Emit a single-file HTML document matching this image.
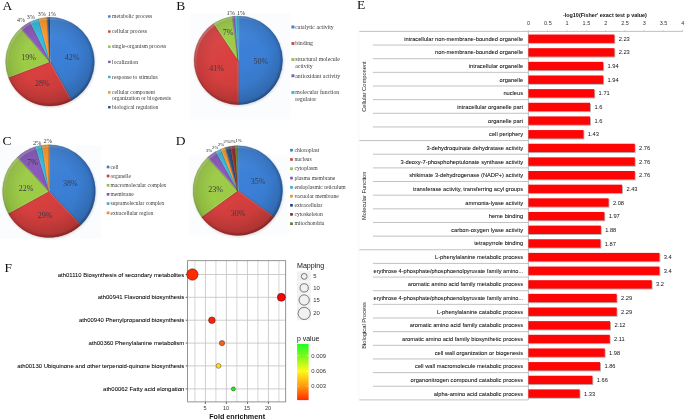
<!DOCTYPE html>
<html><head><meta charset="utf-8"><title>Figure</title>
<style>html,body{margin:0;padding:0;background:#fff;}svg{display:block;}</style></head>
<body>
<svg width="685" height="419" viewBox="0 0 685 419">
<defs>
<filter id="blur1" x="-20%" y="-20%" width="140%" height="140%"><feGaussianBlur stdDeviation="1.0"/></filter>
<filter id="blur3" x="-10%" y="-10%" width="120%" height="120%"><feGaussianBlur stdDeviation="0.6"/></filter>
<filter id="blur2" x="-20%" y="-40%" width="140%" height="180%"><feGaussianBlur stdDeviation="0.7"/></filter>
<radialGradient id="bevel" cx="0.5" cy="0.5" r="0.5">
<stop offset="0" stop-color="#000" stop-opacity="0"/>
<stop offset="0.6" stop-color="#000" stop-opacity="0"/>
<stop offset="0.9" stop-color="#000" stop-opacity="0.09"/>
<stop offset="0.965" stop-color="#000" stop-opacity="0.15"/>
<stop offset="1" stop-color="#000" stop-opacity="0.30"/>
</radialGradient>
<linearGradient id="shade" x1="0.25" y1="0" x2="0.75" y2="1">
<stop offset="0" stop-color="#fff" stop-opacity="0.07"/>
<stop offset="0.45" stop-color="#fff" stop-opacity="0"/>
<stop offset="0.55" stop-color="#000" stop-opacity="0"/>
<stop offset="1" stop-color="#000" stop-opacity="0.13"/>
</linearGradient>
<linearGradient id="rimlin" x1="0.15" y1="0.1" x2="0.85" y2="0.9">
<stop offset="0" stop-color="#fff" stop-opacity="0.22"/>
<stop offset="0.4" stop-color="#fff" stop-opacity="0.0"/>
<stop offset="0.5" stop-color="#000" stop-opacity="0.0"/>
<stop offset="1" stop-color="#000" stop-opacity="0.12"/>
</linearGradient>
<linearGradient id="pgrad" x1="0" y1="0" x2="0" y2="1">
<stop offset="0" stop-color="#1fff1f"/>
<stop offset="0.25" stop-color="#8cf71c"/>
<stop offset="0.48" stop-color="#fffa1a"/>
<stop offset="0.75" stop-color="#ff9a0c"/>
<stop offset="1" stop-color="#ff2a00"/>
</linearGradient>
</defs>
<rect width="685" height="419" fill="#fff"/>
<text x="2.6" y="9.9" font-family='"Liberation Serif", serif' font-size="13.5" fill="#111">A</text>
<text x="176.2" y="9.6" font-family='"Liberation Serif", serif' font-size="13.5" fill="#111">B</text>
<text x="2.5" y="145.4" font-family='"Liberation Serif", serif' font-size="13.5" fill="#111">C</text>
<text x="175.8" y="145" font-family='"Liberation Serif", serif' font-size="13.5" fill="#111">D</text>
<text x="357" y="9" font-family='"Liberation Serif", serif' font-size="13.5" fill="#111">E</text>
<text x="4.4" y="271.8" font-family='"Liberation Serif", serif' font-size="13.5" fill="#111">F</text>
<g>
<circle cx="50.5" cy="62.7" r="44.9" fill="#000" opacity="0.12" filter="url(#blur1)"/>
<path d="M50.00,61.70 L50.00,17.30 A44.4,44.4 0 0 1 71.63,100.47 Z" fill="#3b80d6" stroke="#3b80d6" stroke-width="0.3"/>
<path d="M50.00,61.70 L71.63,100.47 A44.4,44.4 0 0 1 8.52,77.52 Z" fill="#d8403f" stroke="#d8403f" stroke-width="0.3"/>
<path d="M50.00,61.70 L8.52,77.52 A44.4,44.4 0 0 1 20.85,28.21 Z" fill="#9ccb46" stroke="#9ccb46" stroke-width="0.3"/>
<path d="M50.00,61.70 L20.85,28.21 A44.4,44.4 0 0 1 30.09,22.01 Z" fill="#8656b8" stroke="#8656b8" stroke-width="0.3"/>
<path d="M50.00,61.70 L30.09,22.01 A44.4,44.4 0 0 1 38.69,18.77 Z" fill="#2fb8dc" stroke="#2fb8dc" stroke-width="0.3"/>
<path d="M50.00,61.70 L38.69,18.77 A44.4,44.4 0 0 1 47.21,17.39 Z" fill="#fb9526" stroke="#fb9526" stroke-width="0.3"/>
<path d="M50.00,61.70 L47.21,17.39 A44.4,44.4 0 0 1 50.00,17.30 Z" fill="#24497c" stroke="#24497c" stroke-width="0.3"/>
<line x1="50.45" y1="61.70" x2="50.45" y2="17.30" stroke="#fff" stroke-opacity="0.16" stroke-width="0.7"/>
<line x1="49.55" y1="61.70" x2="49.55" y2="17.30" stroke="#000" stroke-opacity="0.22" stroke-width="0.7"/>
<line x1="49.61" y1="61.92" x2="71.24" y2="100.69" stroke="#fff" stroke-opacity="0.16" stroke-width="0.7"/>
<line x1="50.39" y1="61.48" x2="72.03" y2="100.25" stroke="#000" stroke-opacity="0.22" stroke-width="0.7"/>
<line x1="49.84" y1="61.28" x2="8.36" y2="77.10" stroke="#fff" stroke-opacity="0.16" stroke-width="0.7"/>
<line x1="50.16" y1="62.12" x2="8.68" y2="77.95" stroke="#000" stroke-opacity="0.22" stroke-width="0.7"/>
<line x1="50.34" y1="61.40" x2="21.19" y2="27.92" stroke="#fff" stroke-opacity="0.16" stroke-width="0.7"/>
<line x1="49.66" y1="62.00" x2="20.51" y2="28.51" stroke="#000" stroke-opacity="0.22" stroke-width="0.7"/>
<line x1="50.40" y1="61.50" x2="30.49" y2="21.81" stroke="#fff" stroke-opacity="0.16" stroke-width="0.7"/>
<line x1="49.60" y1="61.90" x2="29.69" y2="22.22" stroke="#000" stroke-opacity="0.22" stroke-width="0.7"/>
<line x1="50.44" y1="61.59" x2="39.12" y2="18.65" stroke="#fff" stroke-opacity="0.16" stroke-width="0.7"/>
<line x1="49.56" y1="61.81" x2="38.25" y2="18.88" stroke="#000" stroke-opacity="0.22" stroke-width="0.7"/>
<line x1="50.45" y1="61.67" x2="47.66" y2="17.36" stroke="#fff" stroke-opacity="0.16" stroke-width="0.7"/>
<line x1="49.55" y1="61.73" x2="46.76" y2="17.42" stroke="#000" stroke-opacity="0.22" stroke-width="0.7"/>
<circle cx="50" cy="61.7" r="44.4" fill="url(#bevel)"/>
<circle cx="50" cy="61.7" r="44.4" fill="url(#shade)"/>
<clipPath id="pc1"><circle cx="50" cy="61.7" r="44.4"/></clipPath>
<g clip-path="url(#pc1)"><circle cx="50" cy="61.7" r="43.4" fill="none" stroke="url(#rimlin)" stroke-width="3" filter="url(#blur3)"/></g>
</g>
<text x="72.1" y="59.8" font-family='"Liberation Serif", serif' font-size="8" text-anchor="middle" fill="#3b3b48" font-weight="normal" >42%</text>
<text x="42.4" y="85.8" font-family='"Liberation Serif", serif' font-size="8" text-anchor="middle" fill="#3b3b48" font-weight="normal" >28%</text>
<text x="28.6" y="59.8" font-family='"Liberation Serif", serif' font-size="8" text-anchor="middle" fill="#3b3b48" font-weight="normal" >19%</text>
<text x="21.1" y="22.1" font-family='"Liberation Serif", serif' font-size="6" text-anchor="middle" fill="#333" font-weight="normal" >4%</text>
<text x="30.8" y="18.8" font-family='"Liberation Serif", serif' font-size="6" text-anchor="middle" fill="#333" font-weight="normal" >3%</text>
<text x="41.7" y="15.8" font-family='"Liberation Serif", serif' font-size="6" text-anchor="middle" fill="#333" font-weight="normal" >3%</text>
<text x="51.8" y="15.8" font-family='"Liberation Serif", serif' font-size="6" text-anchor="middle" fill="#333" font-weight="normal" >1%</text>
<rect x="108.2" y="15.35" width="2.3" height="2.3" fill="#3b80d6"/>
<rect x="108.35000000000001" y="15.50" width="1.9999999999999998" height="1.9999999999999998" fill="none" stroke="#000" stroke-opacity="0.25" stroke-width="0.3"/>
<text x="112.1" y="18.174" font-family='"Liberation Serif", serif' font-size="5.58" text-anchor="start" fill="#3a3a3a" font-weight="normal" >metabolic process</text>
<rect x="108.2" y="30.45" width="2.3" height="2.3" fill="#d8403f"/>
<rect x="108.35000000000001" y="30.60" width="1.9999999999999998" height="1.9999999999999998" fill="none" stroke="#000" stroke-opacity="0.25" stroke-width="0.3"/>
<text x="112.1" y="33.274" font-family='"Liberation Serif", serif' font-size="5.58" text-anchor="start" fill="#3a3a3a" font-weight="normal" >cellular process</text>
<rect x="108.2" y="45.65" width="2.3" height="2.3" fill="#9ccb46"/>
<rect x="108.35000000000001" y="45.80" width="1.9999999999999998" height="1.9999999999999998" fill="none" stroke="#000" stroke-opacity="0.25" stroke-width="0.3"/>
<text x="112.1" y="48.474" font-family='"Liberation Serif", serif' font-size="5.58" text-anchor="start" fill="#3a3a3a" font-weight="normal" >single-organism process</text>
<rect x="108.2" y="60.75" width="2.3" height="2.3" fill="#8656b8"/>
<rect x="108.35000000000001" y="60.90" width="1.9999999999999998" height="1.9999999999999998" fill="none" stroke="#000" stroke-opacity="0.25" stroke-width="0.3"/>
<text x="112.1" y="63.574" font-family='"Liberation Serif", serif' font-size="5.58" text-anchor="start" fill="#3a3a3a" font-weight="normal" >localization</text>
<rect x="108.2" y="75.85" width="2.3" height="2.3" fill="#2fb8dc"/>
<rect x="108.35000000000001" y="76.00" width="1.9999999999999998" height="1.9999999999999998" fill="none" stroke="#000" stroke-opacity="0.25" stroke-width="0.3"/>
<text x="112.1" y="78.674" font-family='"Liberation Serif", serif' font-size="5.58" text-anchor="start" fill="#3a3a3a" font-weight="normal" >response to stimulus</text>
<rect x="108.2" y="91.25" width="2.3" height="2.3" fill="#fb9526"/>
<rect x="108.35000000000001" y="91.40" width="1.9999999999999998" height="1.9999999999999998" fill="none" stroke="#000" stroke-opacity="0.25" stroke-width="0.3"/>
<text x="112.1" y="94.07400000000001" font-family='"Liberation Serif", serif' font-size="5.58" text-anchor="start" fill="#3a3a3a" font-weight="normal" >cellular component</text>
<text x="112.1" y="99.57400000000001" font-family='"Liberation Serif", serif' font-size="5.58" text-anchor="start" fill="#3a3a3a" font-weight="normal" >organization or biogenesis</text>
<rect x="108.2" y="106.05" width="2.3" height="2.3" fill="#24497c"/>
<rect x="108.35000000000001" y="106.20" width="1.9999999999999998" height="1.9999999999999998" fill="none" stroke="#000" stroke-opacity="0.25" stroke-width="0.3"/>
<text x="112.1" y="108.87400000000001" font-family='"Liberation Serif", serif' font-size="5.58" text-anchor="start" fill="#3a3a3a" font-weight="normal" >biological regulation</text>
<rect x="190.3" y="13" width="99.7" height="106.5" fill="#f4f8fd" opacity="0.38"/>
<g>
<circle cx="238.85" cy="61.4" r="44.8" fill="#000" opacity="0.12" filter="url(#blur1)"/>
<path d="M238.35,60.40 L238.35,16.10 A44.3,44.3 0 0 1 238.35,104.70 Z" fill="#3b80d6" stroke="#3b80d6" stroke-width="0.3"/>
<path d="M238.35,60.40 L238.35,104.70 A44.3,44.3 0 0 1 213.68,23.60 Z" fill="#d8403f" stroke="#d8403f" stroke-width="0.3"/>
<path d="M238.35,60.40 L213.68,23.60 A44.3,44.3 0 0 1 232.52,16.49 Z" fill="#9ccb46" stroke="#9ccb46" stroke-width="0.3"/>
<path d="M238.35,60.40 L232.52,16.49 A44.3,44.3 0 0 1 235.01,16.23 Z" fill="#8656b8" stroke="#8656b8" stroke-width="0.3"/>
<path d="M238.35,60.40 L235.01,16.23 A44.3,44.3 0 0 1 238.35,16.10 Z" fill="#2fb8dc" stroke="#2fb8dc" stroke-width="0.3"/>
<line x1="238.80" y1="60.40" x2="238.80" y2="16.10" stroke="#fff" stroke-opacity="0.16" stroke-width="0.7"/>
<line x1="237.90" y1="60.40" x2="237.90" y2="16.10" stroke="#000" stroke-opacity="0.22" stroke-width="0.7"/>
<line x1="237.90" y1="60.40" x2="237.90" y2="104.70" stroke="#fff" stroke-opacity="0.16" stroke-width="0.7"/>
<line x1="238.80" y1="60.40" x2="238.80" y2="104.70" stroke="#000" stroke-opacity="0.22" stroke-width="0.7"/>
<line x1="238.72" y1="60.15" x2="214.05" y2="23.35" stroke="#fff" stroke-opacity="0.16" stroke-width="0.7"/>
<line x1="237.98" y1="60.65" x2="213.31" y2="23.86" stroke="#000" stroke-opacity="0.22" stroke-width="0.7"/>
<line x1="238.80" y1="60.34" x2="232.97" y2="16.43" stroke="#fff" stroke-opacity="0.16" stroke-width="0.7"/>
<line x1="237.90" y1="60.46" x2="232.08" y2="16.54" stroke="#000" stroke-opacity="0.22" stroke-width="0.7"/>
<line x1="238.80" y1="60.37" x2="235.46" y2="16.19" stroke="#fff" stroke-opacity="0.16" stroke-width="0.7"/>
<line x1="237.90" y1="60.43" x2="234.56" y2="16.26" stroke="#000" stroke-opacity="0.22" stroke-width="0.7"/>
<circle cx="238.35" cy="60.4" r="44.3" fill="url(#bevel)"/>
<circle cx="238.35" cy="60.4" r="44.3" fill="url(#shade)"/>
<clipPath id="pc2"><circle cx="238.35" cy="60.4" r="44.3"/></clipPath>
<g clip-path="url(#pc2)"><circle cx="238.35" cy="60.4" r="43.3" fill="none" stroke="url(#rimlin)" stroke-width="3" filter="url(#blur3)"/></g>
</g>
<text x="260.8" y="63.7" font-family='"Liberation Serif", serif' font-size="8" text-anchor="middle" fill="#3b3b48" font-weight="normal" >50%</text>
<text x="216.7" y="70.5" font-family='"Liberation Serif", serif' font-size="8" text-anchor="middle" fill="#3b3b48" font-weight="normal" >41%</text>
<text x="228.2" y="34.8" font-family='"Liberation Serif", serif' font-size="8" text-anchor="middle" fill="#3b3b48" font-weight="normal" >7%</text>
<text x="230.7" y="14.6" font-family='"Liberation Serif", serif' font-size="6.4" text-anchor="middle" fill="#333" font-weight="normal" >1%</text>
<text x="240.9" y="14.6" font-family='"Liberation Serif", serif' font-size="6.4" text-anchor="middle" fill="#333" font-weight="normal" >1%</text>
<rect x="291.6" y="25.65" width="2.7" height="2.7" fill="#3b80d6"/>
<rect x="291.75" y="25.80" width="2.4000000000000004" height="2.4000000000000004" fill="none" stroke="#000" stroke-opacity="0.25" stroke-width="0.3"/>
<text x="295.3" y="28.74" font-family='"Liberation Serif", serif' font-size="5.8" text-anchor="start" fill="#3a3a3a" font-weight="normal" >catalytic activity</text>
<rect x="291.6" y="42.15" width="2.7" height="2.7" fill="#d8403f"/>
<rect x="291.75" y="42.30" width="2.4000000000000004" height="2.4000000000000004" fill="none" stroke="#000" stroke-opacity="0.25" stroke-width="0.3"/>
<text x="295.3" y="45.24" font-family='"Liberation Serif", serif' font-size="5.8" text-anchor="start" fill="#3a3a3a" font-weight="normal" >binding</text>
<rect x="291.6" y="58.25" width="2.7" height="2.7" fill="#9ccb46"/>
<rect x="291.75" y="58.40" width="2.4000000000000004" height="2.4000000000000004" fill="none" stroke="#000" stroke-opacity="0.25" stroke-width="0.3"/>
<text x="295.3" y="61.34" font-family='"Liberation Serif", serif' font-size="5.8" text-anchor="start" fill="#3a3a3a" font-weight="normal" >structural molecule</text>
<text x="295.3" y="67.64" font-family='"Liberation Serif", serif' font-size="5.8" text-anchor="start" fill="#3a3a3a" font-weight="normal" >activity</text>
<rect x="291.6" y="74.45" width="2.7" height="2.7" fill="#8656b8"/>
<rect x="291.75" y="74.60" width="2.4000000000000004" height="2.4000000000000004" fill="none" stroke="#000" stroke-opacity="0.25" stroke-width="0.3"/>
<text x="295.3" y="77.53999999999999" font-family='"Liberation Serif", serif' font-size="5.8" text-anchor="start" fill="#3a3a3a" font-weight="normal" >antioxidant activity</text>
<rect x="291.6" y="91.15" width="2.7" height="2.7" fill="#2fb8dc"/>
<rect x="291.75" y="91.30" width="2.4000000000000004" height="2.4000000000000004" fill="none" stroke="#000" stroke-opacity="0.25" stroke-width="0.3"/>
<text x="295.3" y="94.24" font-family='"Liberation Serif", serif' font-size="5.8" text-anchor="start" fill="#3a3a3a" font-weight="normal" >molecular function</text>
<text x="295.3" y="100.53999999999999" font-family='"Liberation Serif", serif' font-size="5.8" text-anchor="start" fill="#3a3a3a" font-weight="normal" >regulator</text>
<rect x="0" y="145.5" width="100.8" height="93" fill="#f4f8fd" opacity="0.38"/>
<g>
<circle cx="49.5" cy="192.2" r="46.9" fill="#000" opacity="0.12" filter="url(#blur1)"/>
<path d="M49.00,191.20 L49.00,144.80 A46.4,46.4 0 0 1 80.76,225.02 Z" fill="#3b80d6" stroke="#3b80d6" stroke-width="0.3"/>
<path d="M49.00,191.20 L80.76,225.02 A46.4,46.4 0 0 1 8.34,213.55 Z" fill="#d8403f" stroke="#d8403f" stroke-width="0.3"/>
<path d="M49.00,191.20 L8.34,213.55 A46.4,46.4 0 0 1 17.45,157.18 Z" fill="#9ccb46" stroke="#9ccb46" stroke-width="0.3"/>
<path d="M49.00,191.20 L17.45,157.18 A46.4,46.4 0 0 1 35.50,146.81 Z" fill="#8656b8" stroke="#8656b8" stroke-width="0.3"/>
<path d="M49.00,191.20 L35.50,146.81 A46.4,46.4 0 0 1 42.03,145.33 Z" fill="#2fb8dc" stroke="#2fb8dc" stroke-width="0.3"/>
<path d="M49.00,191.20 L42.03,145.33 A46.4,46.4 0 0 1 49.00,144.80 Z" fill="#fb9526" stroke="#fb9526" stroke-width="0.3"/>
<line x1="49.45" y1="191.20" x2="49.45" y2="144.80" stroke="#fff" stroke-opacity="0.16" stroke-width="0.7"/>
<line x1="48.55" y1="191.20" x2="48.55" y2="144.80" stroke="#000" stroke-opacity="0.22" stroke-width="0.7"/>
<line x1="48.67" y1="191.51" x2="80.43" y2="225.33" stroke="#fff" stroke-opacity="0.16" stroke-width="0.7"/>
<line x1="49.33" y1="190.89" x2="81.09" y2="224.72" stroke="#000" stroke-opacity="0.22" stroke-width="0.7"/>
<line x1="48.78" y1="190.81" x2="8.12" y2="213.16" stroke="#fff" stroke-opacity="0.16" stroke-width="0.7"/>
<line x1="49.22" y1="191.59" x2="8.56" y2="213.95" stroke="#000" stroke-opacity="0.22" stroke-width="0.7"/>
<line x1="49.33" y1="190.89" x2="17.78" y2="156.87" stroke="#fff" stroke-opacity="0.16" stroke-width="0.7"/>
<line x1="48.67" y1="191.51" x2="17.12" y2="157.48" stroke="#000" stroke-opacity="0.22" stroke-width="0.7"/>
<line x1="49.43" y1="191.07" x2="35.93" y2="146.68" stroke="#fff" stroke-opacity="0.16" stroke-width="0.7"/>
<line x1="48.57" y1="191.33" x2="35.07" y2="146.94" stroke="#000" stroke-opacity="0.22" stroke-width="0.7"/>
<line x1="49.44" y1="191.13" x2="42.47" y2="145.26" stroke="#fff" stroke-opacity="0.16" stroke-width="0.7"/>
<line x1="48.56" y1="191.27" x2="41.58" y2="145.39" stroke="#000" stroke-opacity="0.22" stroke-width="0.7"/>
<circle cx="49" cy="191.2" r="46.4" fill="url(#bevel)"/>
<circle cx="49" cy="191.2" r="46.4" fill="url(#shade)"/>
<clipPath id="pc3"><circle cx="49" cy="191.2" r="46.4"/></clipPath>
<g clip-path="url(#pc3)"><circle cx="49" cy="191.2" r="45.4" fill="none" stroke="url(#rimlin)" stroke-width="3" filter="url(#blur3)"/></g>
</g>
<text x="70.3" y="186" font-family='"Liberation Serif", serif' font-size="8" text-anchor="middle" fill="#3b3b48" font-weight="normal" >38%</text>
<text x="45.2" y="217.5" font-family='"Liberation Serif", serif' font-size="8" text-anchor="middle" fill="#3b3b48" font-weight="normal" >29%</text>
<text x="26" y="190.9" font-family='"Liberation Serif", serif' font-size="8" text-anchor="middle" fill="#3b3b48" font-weight="normal" >22%</text>
<text x="32.6" y="164.6" font-family='"Liberation Serif", serif' font-size="8" text-anchor="middle" fill="#3b3b48" font-weight="normal" >7%</text>
<text x="37.2" y="144.6" font-family='"Liberation Serif", serif' font-size="6.4" text-anchor="middle" fill="#333" font-weight="normal" >2%</text>
<text x="47.8" y="143.2" font-family='"Liberation Serif", serif' font-size="6.4" text-anchor="middle" fill="#333" font-weight="normal" >2%</text>
<rect x="106.8" y="165.75" width="2.5" height="2.5" fill="#3b80d6"/>
<rect x="106.95" y="165.90" width="2.2" height="2.2" fill="none" stroke="#000" stroke-opacity="0.25" stroke-width="0.3"/>
<text x="110.6" y="168.644" font-family='"Liberation Serif", serif' font-size="5.48" text-anchor="start" fill="#3a3a3a" font-weight="normal" >cell</text>
<rect x="106.8" y="174.75" width="2.5" height="2.5" fill="#d8403f"/>
<rect x="106.95" y="174.90" width="2.2" height="2.2" fill="none" stroke="#000" stroke-opacity="0.25" stroke-width="0.3"/>
<text x="110.6" y="177.644" font-family='"Liberation Serif", serif' font-size="5.48" text-anchor="start" fill="#3a3a3a" font-weight="normal" >organelle</text>
<rect x="106.8" y="184.05" width="2.5" height="2.5" fill="#9ccb46"/>
<rect x="106.95" y="184.20" width="2.2" height="2.2" fill="none" stroke="#000" stroke-opacity="0.25" stroke-width="0.3"/>
<text x="110.6" y="186.94400000000002" font-family='"Liberation Serif", serif' font-size="5.48" text-anchor="start" fill="#3a3a3a" font-weight="normal" >macromolecular complex</text>
<rect x="106.8" y="193.05" width="2.5" height="2.5" fill="#8656b8"/>
<rect x="106.95" y="193.20" width="2.2" height="2.2" fill="none" stroke="#000" stroke-opacity="0.25" stroke-width="0.3"/>
<text x="110.6" y="195.94400000000002" font-family='"Liberation Serif", serif' font-size="5.48" text-anchor="start" fill="#3a3a3a" font-weight="normal" >membrane</text>
<rect x="106.8" y="202.35" width="2.5" height="2.5" fill="#2fb8dc"/>
<rect x="106.95" y="202.50" width="2.2" height="2.2" fill="none" stroke="#000" stroke-opacity="0.25" stroke-width="0.3"/>
<text x="110.6" y="205.244" font-family='"Liberation Serif", serif' font-size="5.48" text-anchor="start" fill="#3a3a3a" font-weight="normal" >supramolecular complex</text>
<rect x="106.8" y="211.65" width="2.5" height="2.5" fill="#fb9526"/>
<rect x="106.95" y="211.80" width="2.2" height="2.2" fill="none" stroke="#000" stroke-opacity="0.25" stroke-width="0.3"/>
<text x="110.6" y="214.544" font-family='"Liberation Serif", serif' font-size="5.48" text-anchor="start" fill="#3a3a3a" font-weight="normal" >extracellular region</text>
<rect x="189.6" y="155.6" width="98" height="79.5" fill="#f4f8fd" opacity="0.38"/>
<g>
<circle cx="238.3" cy="191.6" r="45.3" fill="#000" opacity="0.12" filter="url(#blur1)"/>
<path d="M237.80,190.60 L237.80,145.80 A44.8,44.8 0 0 1 274.04,216.93 Z" fill="#3b80d6" stroke="#3b80d6" stroke-width="0.3"/>
<path d="M237.80,190.60 L274.04,216.93 A44.8,44.8 0 0 1 201.56,216.93 Z" fill="#d8403f" stroke="#d8403f" stroke-width="0.3"/>
<path d="M237.80,190.60 L201.56,216.93 A44.8,44.8 0 0 1 207.75,157.37 Z" fill="#9ccb46" stroke="#9ccb46" stroke-width="0.3"/>
<path d="M237.80,190.60 L207.75,157.37 A44.8,44.8 0 0 1 215.73,151.62 Z" fill="#8656b8" stroke="#8656b8" stroke-width="0.3"/>
<path d="M237.80,190.60 L215.73,151.62 A44.8,44.8 0 0 1 220.79,149.16 Z" fill="#2fb8dc" stroke="#2fb8dc" stroke-width="0.3"/>
<path d="M237.80,190.60 L220.79,149.16 A44.8,44.8 0 0 1 225.30,147.58 Z" fill="#fb9526" stroke="#fb9526" stroke-width="0.3"/>
<path d="M237.80,190.60 L225.30,147.58 A44.8,44.8 0 0 1 230.51,146.40 Z" fill="#24497c" stroke="#24497c" stroke-width="0.3"/>
<path d="M237.80,190.60 L230.51,146.40 A44.8,44.8 0 0 1 235.27,145.87 Z" fill="#962424" stroke="#962424" stroke-width="0.3"/>
<path d="M237.80,190.60 L235.27,145.87 A44.8,44.8 0 0 1 237.80,145.80 Z" fill="#5f8420" stroke="#5f8420" stroke-width="0.3"/>
<line x1="238.25" y1="190.60" x2="238.25" y2="145.80" stroke="#fff" stroke-opacity="0.16" stroke-width="0.7"/>
<line x1="237.35" y1="190.60" x2="237.35" y2="145.80" stroke="#000" stroke-opacity="0.22" stroke-width="0.7"/>
<line x1="237.54" y1="190.96" x2="273.78" y2="217.30" stroke="#fff" stroke-opacity="0.16" stroke-width="0.7"/>
<line x1="238.06" y1="190.24" x2="274.31" y2="216.57" stroke="#000" stroke-opacity="0.22" stroke-width="0.7"/>
<line x1="237.54" y1="190.24" x2="201.29" y2="216.57" stroke="#fff" stroke-opacity="0.16" stroke-width="0.7"/>
<line x1="238.06" y1="190.96" x2="201.82" y2="217.30" stroke="#000" stroke-opacity="0.22" stroke-width="0.7"/>
<line x1="238.13" y1="190.30" x2="208.09" y2="157.07" stroke="#fff" stroke-opacity="0.16" stroke-width="0.7"/>
<line x1="237.47" y1="190.90" x2="207.42" y2="157.67" stroke="#000" stroke-opacity="0.22" stroke-width="0.7"/>
<line x1="238.19" y1="190.38" x2="216.12" y2="151.39" stroke="#fff" stroke-opacity="0.16" stroke-width="0.7"/>
<line x1="237.41" y1="190.82" x2="215.33" y2="151.84" stroke="#000" stroke-opacity="0.22" stroke-width="0.7"/>
<line x1="238.22" y1="190.43" x2="221.20" y2="148.99" stroke="#fff" stroke-opacity="0.16" stroke-width="0.7"/>
<line x1="237.38" y1="190.77" x2="220.37" y2="149.33" stroke="#000" stroke-opacity="0.22" stroke-width="0.7"/>
<line x1="238.23" y1="190.47" x2="225.73" y2="147.45" stroke="#fff" stroke-opacity="0.16" stroke-width="0.7"/>
<line x1="237.37" y1="190.73" x2="224.87" y2="147.70" stroke="#000" stroke-opacity="0.22" stroke-width="0.7"/>
<line x1="238.24" y1="190.53" x2="230.96" y2="146.32" stroke="#fff" stroke-opacity="0.16" stroke-width="0.7"/>
<line x1="237.36" y1="190.67" x2="230.07" y2="146.47" stroke="#000" stroke-opacity="0.22" stroke-width="0.7"/>
<line x1="238.25" y1="190.57" x2="235.72" y2="145.85" stroke="#fff" stroke-opacity="0.16" stroke-width="0.7"/>
<line x1="237.35" y1="190.63" x2="234.82" y2="145.90" stroke="#000" stroke-opacity="0.22" stroke-width="0.7"/>
<circle cx="237.8" cy="190.6" r="44.8" fill="url(#bevel)"/>
<circle cx="237.8" cy="190.6" r="44.8" fill="url(#shade)"/>
<clipPath id="pc4"><circle cx="237.8" cy="190.6" r="44.8"/></clipPath>
<g clip-path="url(#pc4)"><circle cx="237.8" cy="190.6" r="43.8" fill="none" stroke="url(#rimlin)" stroke-width="3" filter="url(#blur3)"/></g>
</g>
<text x="258.2" y="183.5" font-family='"Liberation Serif", serif' font-size="8" text-anchor="middle" fill="#3b3b48" font-weight="normal" >35%</text>
<text x="238" y="215.5" font-family='"Liberation Serif", serif' font-size="8" text-anchor="middle" fill="#3b3b48" font-weight="normal" >30%</text>
<text x="215.7" y="191.5" font-family='"Liberation Serif", serif' font-size="8" text-anchor="middle" fill="#3b3b48" font-weight="normal" >23%</text>
<text x="209.1" y="151.6" font-family='"Liberation Serif", serif' font-size="4.7" text-anchor="middle" fill="#222" font-weight="normal" >3%</text>
<text x="215.2" y="148.5" font-family='"Liberation Serif", serif' font-size="4.7" text-anchor="middle" fill="#222" font-weight="normal" >2%</text>
<text x="221.05" y="145.8" font-family='"Liberation Serif", serif' font-size="4.7" text-anchor="middle" fill="#222" font-weight="normal" >2%</text>
<text x="226.7" y="143.4" font-family='"Liberation Serif", serif' font-size="4.7" text-anchor="middle" fill="#222" font-weight="normal" >2%</text>
<text x="232.6" y="143.1" font-family='"Liberation Serif", serif' font-size="4.7" text-anchor="middle" fill="#222" font-weight="normal" >2%</text>
<text x="238.5" y="142.3" font-family='"Liberation Serif", serif' font-size="4.7" text-anchor="middle" fill="#222" font-weight="normal" >1%</text>
<rect x="290.2" y="148.90" width="2.6" height="2.6" fill="#3b80d6"/>
<rect x="290.34999999999997" y="149.05" width="2.3000000000000003" height="2.3000000000000003" fill="none" stroke="#000" stroke-opacity="0.25" stroke-width="0.3"/>
<text x="294.5" y="151.88" font-family='"Liberation Serif", serif' font-size="5.6" text-anchor="start" fill="#3a3a3a" font-weight="normal" >chloroplast</text>
<rect x="290.2" y="158.20" width="2.6" height="2.6" fill="#d8403f"/>
<rect x="290.34999999999997" y="158.35" width="2.3000000000000003" height="2.3000000000000003" fill="none" stroke="#000" stroke-opacity="0.25" stroke-width="0.3"/>
<text x="294.5" y="161.18" font-family='"Liberation Serif", serif' font-size="5.6" text-anchor="start" fill="#3a3a3a" font-weight="normal" >nucleus</text>
<rect x="290.2" y="167.50" width="2.6" height="2.6" fill="#9ccb46"/>
<rect x="290.34999999999997" y="167.65" width="2.3000000000000003" height="2.3000000000000003" fill="none" stroke="#000" stroke-opacity="0.25" stroke-width="0.3"/>
<text x="294.5" y="170.48000000000002" font-family='"Liberation Serif", serif' font-size="5.6" text-anchor="start" fill="#3a3a3a" font-weight="normal" >cytoplasm</text>
<rect x="290.2" y="176.80" width="2.6" height="2.6" fill="#8656b8"/>
<rect x="290.34999999999997" y="176.95" width="2.3000000000000003" height="2.3000000000000003" fill="none" stroke="#000" stroke-opacity="0.25" stroke-width="0.3"/>
<text x="294.5" y="179.78" font-family='"Liberation Serif", serif' font-size="5.6" text-anchor="start" fill="#3a3a3a" font-weight="normal" >plasma membrane</text>
<rect x="290.2" y="186.10" width="2.6" height="2.6" fill="#2fb8dc"/>
<rect x="290.34999999999997" y="186.25" width="2.3000000000000003" height="2.3000000000000003" fill="none" stroke="#000" stroke-opacity="0.25" stroke-width="0.3"/>
<text x="294.5" y="189.08" font-family='"Liberation Serif", serif' font-size="5.6" text-anchor="start" fill="#3a3a3a" font-weight="normal" >endoplasmic reticulum</text>
<rect x="290.2" y="194.90" width="2.6" height="2.6" fill="#fb9526"/>
<rect x="290.34999999999997" y="195.05" width="2.3000000000000003" height="2.3000000000000003" fill="none" stroke="#000" stroke-opacity="0.25" stroke-width="0.3"/>
<text x="294.5" y="197.88" font-family='"Liberation Serif", serif' font-size="5.6" text-anchor="start" fill="#3a3a3a" font-weight="normal" >vacuolar membrane</text>
<rect x="290.2" y="204.00" width="2.6" height="2.6" fill="#24497c"/>
<rect x="290.34999999999997" y="204.15" width="2.3000000000000003" height="2.3000000000000003" fill="none" stroke="#000" stroke-opacity="0.25" stroke-width="0.3"/>
<text x="294.5" y="206.98000000000002" font-family='"Liberation Serif", serif' font-size="5.6" text-anchor="start" fill="#3a3a3a" font-weight="normal" >extracellular</text>
<rect x="290.2" y="213.10" width="2.6" height="2.6" fill="#962424"/>
<rect x="290.34999999999997" y="213.25" width="2.3000000000000003" height="2.3000000000000003" fill="none" stroke="#000" stroke-opacity="0.25" stroke-width="0.3"/>
<text x="294.5" y="216.08" font-family='"Liberation Serif", serif' font-size="5.6" text-anchor="start" fill="#3a3a3a" font-weight="normal" >cytoskeleton</text>
<rect x="290.2" y="222.40" width="2.6" height="2.6" fill="#5f8420"/>
<rect x="290.34999999999997" y="222.55" width="2.3000000000000003" height="2.3000000000000003" fill="none" stroke="#000" stroke-opacity="0.25" stroke-width="0.3"/>
<text x="294.5" y="225.38" font-family='"Liberation Serif", serif' font-size="5.6" text-anchor="start" fill="#3a3a3a" font-weight="normal" >mitochondria</text>
<rect x="187.6" y="260.7" width="98.10" height="141.20" fill="#fff"/>
<line x1="194.90" y1="260.7" x2="194.90" y2="401.9" stroke="#cecece" stroke-width="0.8"/>
<line x1="215.90" y1="260.7" x2="215.90" y2="401.9" stroke="#cecece" stroke-width="0.8"/>
<line x1="236.90" y1="260.7" x2="236.90" y2="401.9" stroke="#cecece" stroke-width="0.8"/>
<line x1="257.90" y1="260.7" x2="257.90" y2="401.9" stroke="#cecece" stroke-width="0.8"/>
<line x1="278.90" y1="260.7" x2="278.90" y2="401.9" stroke="#cecece" stroke-width="0.8"/>
<line x1="205.40" y1="260.7" x2="205.40" y2="401.9" stroke="#c4c4c4" stroke-width="0.85"/>
<line x1="205.40" y1="401.9" x2="205.40" y2="403.9" stroke="#333" stroke-width="0.75"/>
<text x="205.1" y="409.9" font-family='"Liberation Sans", sans-serif' font-size="5.5" text-anchor="middle" fill="#333" font-weight="normal" >5</text>
<line x1="226.40" y1="260.7" x2="226.40" y2="401.9" stroke="#c4c4c4" stroke-width="0.85"/>
<line x1="226.40" y1="401.9" x2="226.40" y2="403.9" stroke="#333" stroke-width="0.75"/>
<text x="226.1" y="409.9" font-family='"Liberation Sans", sans-serif' font-size="5.5" text-anchor="middle" fill="#333" font-weight="normal" >10</text>
<line x1="247.40" y1="260.7" x2="247.40" y2="401.9" stroke="#c4c4c4" stroke-width="0.85"/>
<line x1="247.40" y1="401.9" x2="247.40" y2="403.9" stroke="#333" stroke-width="0.75"/>
<text x="247.1" y="409.9" font-family='"Liberation Sans", sans-serif' font-size="5.5" text-anchor="middle" fill="#333" font-weight="normal" >15</text>
<line x1="268.40" y1="260.7" x2="268.40" y2="401.9" stroke="#c4c4c4" stroke-width="0.85"/>
<line x1="268.40" y1="401.9" x2="268.40" y2="403.9" stroke="#333" stroke-width="0.75"/>
<text x="268.09999999999997" y="409.9" font-family='"Liberation Sans", sans-serif' font-size="5.5" text-anchor="middle" fill="#333" font-weight="normal" >20</text>
<line x1="187.6" y1="274.5" x2="285.7" y2="274.5" stroke="#c4c4c4" stroke-width="0.85"/>
<line x1="185.6" y1="274.5" x2="187.6" y2="274.5" stroke="#333" stroke-width="0.75"/>
<line x1="187.6" y1="297.3" x2="285.7" y2="297.3" stroke="#c4c4c4" stroke-width="0.85"/>
<line x1="185.6" y1="297.3" x2="187.6" y2="297.3" stroke="#333" stroke-width="0.75"/>
<line x1="187.6" y1="320.2" x2="285.7" y2="320.2" stroke="#c4c4c4" stroke-width="0.85"/>
<line x1="185.6" y1="320.2" x2="187.6" y2="320.2" stroke="#333" stroke-width="0.75"/>
<line x1="187.6" y1="343.1" x2="285.7" y2="343.1" stroke="#c4c4c4" stroke-width="0.85"/>
<line x1="185.6" y1="343.1" x2="187.6" y2="343.1" stroke="#333" stroke-width="0.75"/>
<line x1="187.6" y1="365.9" x2="285.7" y2="365.9" stroke="#c4c4c4" stroke-width="0.85"/>
<line x1="185.6" y1="365.9" x2="187.6" y2="365.9" stroke="#333" stroke-width="0.75"/>
<line x1="187.6" y1="388.9" x2="285.7" y2="388.9" stroke="#c4c4c4" stroke-width="0.85"/>
<line x1="185.6" y1="388.9" x2="187.6" y2="388.9" stroke="#333" stroke-width="0.75"/>
<rect x="187.6" y="260.7" width="98.10" height="141.20" fill="none" stroke="#7a7a7a" stroke-width="0.8"/>
<text x="184.3" y="276.5" font-family='"Liberation Sans", sans-serif' font-size="5.94" text-anchor="end" fill="#000" font-weight="normal" stroke="#000" stroke-width="0.05">ath01110 Biosynthesis of secondary metabolites</text>
<text x="184.3" y="299.3" font-family='"Liberation Sans", sans-serif' font-size="5.94" text-anchor="end" fill="#000" font-weight="normal" stroke="#000" stroke-width="0.05">ath00941 Flavonoid biosynthesis</text>
<text x="184.3" y="322.2" font-family='"Liberation Sans", sans-serif' font-size="5.94" text-anchor="end" fill="#000" font-weight="normal" stroke="#000" stroke-width="0.05">ath00940 Phenylpropanoid biosynthesis</text>
<text x="184.3" y="345.1" font-family='"Liberation Sans", sans-serif' font-size="5.94" text-anchor="end" fill="#000" font-weight="normal" stroke="#000" stroke-width="0.05">ath00360 Phenylalanine metabolism</text>
<text x="184.3" y="367.9" font-family='"Liberation Sans", sans-serif' font-size="5.94" text-anchor="end" fill="#000" font-weight="normal" stroke="#000" stroke-width="0.05">ath00130 Ubiquinone and other terpenoid-quinone biosynthesis</text>
<text x="184.3" y="390.9" font-family='"Liberation Sans", sans-serif' font-size="5.94" text-anchor="end" fill="#000" font-weight="normal" stroke="#000" stroke-width="0.05">ath00062 Fatty acid elongation</text>
<circle cx="192.4" cy="274.5" r="5.7" fill="#ff2a00" stroke="#301010" stroke-width="0.5"/>
<circle cx="281.3" cy="297.3" r="4.0" fill="#f40606" stroke="#301010" stroke-width="0.5"/>
<circle cx="211.9" cy="320.2" r="3.3" fill="#fb2408" stroke="#301010" stroke-width="0.5"/>
<circle cx="222" cy="343.1" r="2.7" fill="#f2601e" stroke="#301010" stroke-width="0.4"/>
<circle cx="218.5" cy="365.9" r="2.45" fill="#f8e020" stroke="#301010" stroke-width="0.4"/>
<circle cx="233.4" cy="388.9" r="2.05" fill="#22ea22" stroke="#301010" stroke-width="0.4"/>
<text x="237.1" y="418.8" font-family='"Liberation Sans", sans-serif' font-size="7.2" text-anchor="middle" fill="#111" font-weight="bold" >Fold enrichment</text>
<text x="297" y="268.4" font-family='"Liberation Sans", sans-serif' font-size="7.1" text-anchor="start" fill="#111" font-weight="normal" >Mapping</text>
<rect x="297.0" y="271.4" width="13.9" height="9.80" fill="#f1f1f1"/>
<rect x="297.0" y="281.8" width="13.9" height="11.80" fill="#f1f1f1"/>
<rect x="297.0" y="294.2" width="13.9" height="11.60" fill="#f1f1f1"/>
<rect x="297.0" y="306.4" width="13.9" height="13.80" fill="#f1f1f1"/>
<circle cx="304.2" cy="276.4" r="2.9" fill="none" stroke="#1a1a1a" stroke-width="0.55"/>
<text x="313.2" y="278.4" font-family='"Liberation Sans", sans-serif' font-size="5.9" text-anchor="start" fill="#333" font-weight="normal" >5</text>
<circle cx="304.2" cy="287.9" r="4.1" fill="none" stroke="#1a1a1a" stroke-width="0.55"/>
<text x="313.2" y="289.9" font-family='"Liberation Sans", sans-serif' font-size="5.9" text-anchor="start" fill="#333" font-weight="normal" >10</text>
<circle cx="304.2" cy="300.0" r="5.15" fill="none" stroke="#1a1a1a" stroke-width="0.55"/>
<text x="313.2" y="302.0" font-family='"Liberation Sans", sans-serif' font-size="5.9" text-anchor="start" fill="#333" font-weight="normal" >15</text>
<circle cx="304.2" cy="313.4" r="6.1" fill="none" stroke="#1a1a1a" stroke-width="0.55"/>
<text x="313.2" y="315.4" font-family='"Liberation Sans", sans-serif' font-size="5.9" text-anchor="start" fill="#333" font-weight="normal" >20</text>
<text x="297" y="340.6" font-family='"Liberation Sans", sans-serif' font-size="6.95" text-anchor="start" fill="#111" font-weight="normal" >p value</text>
<rect x="297.1" y="343.9" width="11.5" height="56.2" fill="url(#pgrad)"/>
<text x="311.3" y="357.6" font-family='"Liberation Sans", sans-serif' font-size="5.9" text-anchor="start" fill="#333" font-weight="normal" >0.009</text>
<line x1="297.1" y1="355.6" x2="299.3" y2="355.6" stroke="#fff" stroke-width="0.4"/>
<line x1="306.4" y1="355.6" x2="308.6" y2="355.6" stroke="#fff" stroke-width="0.4"/>
<text x="311.3" y="373.2" font-family='"Liberation Sans", sans-serif' font-size="5.9" text-anchor="start" fill="#333" font-weight="normal" >0.006</text>
<line x1="297.1" y1="371.2" x2="299.3" y2="371.2" stroke="#fff" stroke-width="0.4"/>
<line x1="306.4" y1="371.2" x2="308.6" y2="371.2" stroke="#fff" stroke-width="0.4"/>
<text x="311.3" y="388.1" font-family='"Liberation Sans", sans-serif' font-size="5.9" text-anchor="start" fill="#333" font-weight="normal" >0.003</text>
<line x1="297.1" y1="386.1" x2="299.3" y2="386.1" stroke="#fff" stroke-width="0.4"/>
<line x1="306.4" y1="386.1" x2="308.6" y2="386.1" stroke="#fff" stroke-width="0.4"/>
<text transform="translate(604.9,16.7) scale(0.94,1)" font-family='"Liberation Sans", sans-serif' font-size="5.8" text-anchor="middle" fill="#111" font-weight="bold">-log10(Fisher' exact test p value)</text>
<text x="528.6" y="25.4" font-family='"Liberation Sans", sans-serif' font-size="5.5" text-anchor="middle" fill="#333" font-weight="normal" >0</text>
<line x1="528.40" y1="30.1" x2="528.40" y2="31.4" stroke="#aaa" stroke-width="0.5"/>
<text x="547.875" y="25.4" font-family='"Liberation Sans", sans-serif' font-size="5.5" text-anchor="middle" fill="#333" font-weight="normal" >0.5</text>
<line x1="547.67" y1="30.1" x2="547.67" y2="31.4" stroke="#aaa" stroke-width="0.5"/>
<text x="567.15" y="25.4" font-family='"Liberation Sans", sans-serif' font-size="5.5" text-anchor="middle" fill="#333" font-weight="normal" >1</text>
<line x1="566.95" y1="30.1" x2="566.95" y2="31.4" stroke="#aaa" stroke-width="0.5"/>
<text x="586.4250000000001" y="25.4" font-family='"Liberation Sans", sans-serif' font-size="5.5" text-anchor="middle" fill="#333" font-weight="normal" >1.5</text>
<line x1="586.23" y1="30.1" x2="586.23" y2="31.4" stroke="#aaa" stroke-width="0.5"/>
<text x="605.7" y="25.4" font-family='"Liberation Sans", sans-serif' font-size="5.5" text-anchor="middle" fill="#333" font-weight="normal" >2</text>
<line x1="605.50" y1="30.1" x2="605.50" y2="31.4" stroke="#aaa" stroke-width="0.5"/>
<text x="624.975" y="25.4" font-family='"Liberation Sans", sans-serif' font-size="5.5" text-anchor="middle" fill="#333" font-weight="normal" >2.5</text>
<line x1="624.77" y1="30.1" x2="624.77" y2="31.4" stroke="#aaa" stroke-width="0.5"/>
<text x="644.25" y="25.4" font-family='"Liberation Sans", sans-serif' font-size="5.5" text-anchor="middle" fill="#333" font-weight="normal" >3</text>
<line x1="644.05" y1="30.1" x2="644.05" y2="31.4" stroke="#aaa" stroke-width="0.5"/>
<text x="663.525" y="25.4" font-family='"Liberation Sans", sans-serif' font-size="5.5" text-anchor="middle" fill="#333" font-weight="normal" >3.5</text>
<line x1="663.32" y1="30.1" x2="663.32" y2="31.4" stroke="#aaa" stroke-width="0.5"/>
<text x="682.8" y="25.4" font-family='"Liberation Sans", sans-serif' font-size="5.5" text-anchor="middle" fill="#333" font-weight="normal" >4</text>
<line x1="682.60" y1="30.1" x2="682.60" y2="31.4" stroke="#aaa" stroke-width="0.5"/>
<line x1="528.4" y1="31.4" x2="682.90" y2="31.4" stroke="#a8a8a8" stroke-width="0.7"/>
<line x1="359.3" y1="31.40" x2="528.4" y2="31.40" stroke="#a8a8a8" stroke-width="0.7"/>
<line x1="372.9" y1="45.05" x2="528.4" y2="45.05" stroke="#a8a8a8" stroke-width="0.7"/>
<line x1="372.9" y1="58.70" x2="528.4" y2="58.70" stroke="#a8a8a8" stroke-width="0.7"/>
<line x1="372.9" y1="72.34" x2="528.4" y2="72.34" stroke="#a8a8a8" stroke-width="0.7"/>
<line x1="372.9" y1="85.99" x2="528.4" y2="85.99" stroke="#a8a8a8" stroke-width="0.7"/>
<line x1="372.9" y1="99.64" x2="528.4" y2="99.64" stroke="#a8a8a8" stroke-width="0.7"/>
<line x1="372.9" y1="113.29" x2="528.4" y2="113.29" stroke="#a8a8a8" stroke-width="0.7"/>
<line x1="372.9" y1="126.94" x2="528.4" y2="126.94" stroke="#a8a8a8" stroke-width="0.7"/>
<line x1="359.3" y1="140.59" x2="528.4" y2="140.59" stroke="#a8a8a8" stroke-width="0.7"/>
<line x1="372.9" y1="154.23" x2="528.4" y2="154.23" stroke="#a8a8a8" stroke-width="0.7"/>
<line x1="372.9" y1="167.88" x2="528.4" y2="167.88" stroke="#a8a8a8" stroke-width="0.7"/>
<line x1="372.9" y1="181.53" x2="528.4" y2="181.53" stroke="#a8a8a8" stroke-width="0.7"/>
<line x1="372.9" y1="195.18" x2="528.4" y2="195.18" stroke="#a8a8a8" stroke-width="0.7"/>
<line x1="372.9" y1="208.83" x2="528.4" y2="208.83" stroke="#a8a8a8" stroke-width="0.7"/>
<line x1="372.9" y1="222.47" x2="528.4" y2="222.47" stroke="#a8a8a8" stroke-width="0.7"/>
<line x1="372.9" y1="236.12" x2="528.4" y2="236.12" stroke="#a8a8a8" stroke-width="0.7"/>
<line x1="359.3" y1="249.77" x2="528.4" y2="249.77" stroke="#a8a8a8" stroke-width="0.7"/>
<line x1="372.9" y1="263.42" x2="528.4" y2="263.42" stroke="#a8a8a8" stroke-width="0.7"/>
<line x1="372.9" y1="277.07" x2="528.4" y2="277.07" stroke="#a8a8a8" stroke-width="0.7"/>
<line x1="372.9" y1="290.71" x2="528.4" y2="290.71" stroke="#a8a8a8" stroke-width="0.7"/>
<line x1="372.9" y1="304.36" x2="528.4" y2="304.36" stroke="#a8a8a8" stroke-width="0.7"/>
<line x1="372.9" y1="318.01" x2="528.4" y2="318.01" stroke="#a8a8a8" stroke-width="0.7"/>
<line x1="372.9" y1="331.66" x2="528.4" y2="331.66" stroke="#a8a8a8" stroke-width="0.7"/>
<line x1="372.9" y1="345.31" x2="528.4" y2="345.31" stroke="#a8a8a8" stroke-width="0.7"/>
<line x1="372.9" y1="358.96" x2="528.4" y2="358.96" stroke="#a8a8a8" stroke-width="0.7"/>
<line x1="372.9" y1="372.60" x2="528.4" y2="372.60" stroke="#a8a8a8" stroke-width="0.7"/>
<line x1="372.9" y1="386.25" x2="528.4" y2="386.25" stroke="#a8a8a8" stroke-width="0.7"/>
<line x1="359.3" y1="399.90" x2="528.4" y2="399.90" stroke="#a8a8a8" stroke-width="0.7"/>
<line x1="528.4" y1="31.4" x2="528.4" y2="399.90" stroke="#a8a8a8" stroke-width="0.7"/>
<line x1="358.8" y1="31.4" x2="358.8" y2="399.90" stroke="#f1f1f1" stroke-width="0.6"/>
<rect x="528.6999999999999" y="35.52" width="86.57" height="8.4" fill="#000" opacity="0.28" filter="url(#blur2)"/>
<rect x="528.4" y="34.52" width="85.97" height="8.4" fill="#fe0505"/>
<text x="523.1" y="40.724074074074075" font-family='"Liberation Sans", sans-serif' font-size="5.72" text-anchor="end" fill="#111" font-weight="normal" stroke="#111" stroke-width="0.06">intracellular non-membrane-bounded organelle</text>
<text x="618.6664999999999" y="40.824074074074076" font-family='"Liberation Sans", sans-serif' font-size="5.72" text-anchor="start" fill="#111" font-weight="normal" >2.23</text>
<rect x="528.6999999999999" y="49.17" width="86.57" height="8.4" fill="#000" opacity="0.28" filter="url(#blur2)"/>
<rect x="528.4" y="48.17" width="85.97" height="8.4" fill="#fe0505"/>
<text x="523.1" y="54.37222222222222" font-family='"Liberation Sans", sans-serif' font-size="5.72" text-anchor="end" fill="#111" font-weight="normal" stroke="#111" stroke-width="0.06">non-membrane-bounded organelle</text>
<text x="618.6664999999999" y="54.47222222222222" font-family='"Liberation Sans", sans-serif' font-size="5.72" text-anchor="start" fill="#111" font-weight="normal" >2.23</text>
<rect x="528.6999999999999" y="62.82" width="75.39" height="8.4" fill="#000" opacity="0.28" filter="url(#blur2)"/>
<rect x="528.4" y="61.82" width="74.79" height="8.4" fill="#fe0505"/>
<text x="523.1" y="68.02037037037037" font-family='"Liberation Sans", sans-serif' font-size="5.72" text-anchor="end" fill="#111" font-weight="normal" stroke="#111" stroke-width="0.06">intracellular organelle</text>
<text x="607.487" y="68.12037037037037" font-family='"Liberation Sans", sans-serif' font-size="5.72" text-anchor="start" fill="#111" font-weight="normal" >1.94</text>
<rect x="528.6999999999999" y="76.47" width="75.39" height="8.4" fill="#000" opacity="0.28" filter="url(#blur2)"/>
<rect x="528.4" y="75.47" width="74.79" height="8.4" fill="#fe0505"/>
<text x="523.1" y="81.66851851851851" font-family='"Liberation Sans", sans-serif' font-size="5.72" text-anchor="end" fill="#111" font-weight="normal" stroke="#111" stroke-width="0.06">organelle</text>
<text x="607.487" y="81.7685185185185" font-family='"Liberation Sans", sans-serif' font-size="5.72" text-anchor="start" fill="#111" font-weight="normal" >1.94</text>
<rect x="528.6999999999999" y="90.12" width="66.52" height="8.4" fill="#000" opacity="0.28" filter="url(#blur2)"/>
<rect x="528.4" y="89.12" width="65.92" height="8.4" fill="#fe0505"/>
<text x="523.1" y="95.31666666666666" font-family='"Liberation Sans", sans-serif' font-size="5.72" text-anchor="end" fill="#111" font-weight="normal" stroke="#111" stroke-width="0.06">nucleus</text>
<text x="598.6204999999999" y="95.41666666666666" font-family='"Liberation Sans", sans-serif' font-size="5.72" text-anchor="start" fill="#111" font-weight="normal" >1.71</text>
<rect x="528.6999999999999" y="103.76" width="62.28" height="8.4" fill="#000" opacity="0.28" filter="url(#blur2)"/>
<rect x="528.4" y="102.76" width="61.68" height="8.4" fill="#fe0505"/>
<text x="523.1" y="108.96481481481482" font-family='"Liberation Sans", sans-serif' font-size="5.72" text-anchor="end" fill="#111" font-weight="normal" stroke="#111" stroke-width="0.06">intracellular organelle part</text>
<text x="594.3799999999999" y="109.06481481481481" font-family='"Liberation Sans", sans-serif' font-size="5.72" text-anchor="start" fill="#111" font-weight="normal" >1.6</text>
<rect x="528.6999999999999" y="117.41" width="62.28" height="8.4" fill="#000" opacity="0.28" filter="url(#blur2)"/>
<rect x="528.4" y="116.41" width="61.68" height="8.4" fill="#fe0505"/>
<text x="523.1" y="122.61296296296297" font-family='"Liberation Sans", sans-serif' font-size="5.72" text-anchor="end" fill="#111" font-weight="normal" stroke="#111" stroke-width="0.06">organelle part</text>
<text x="594.3799999999999" y="122.71296296296296" font-family='"Liberation Sans", sans-serif' font-size="5.72" text-anchor="start" fill="#111" font-weight="normal" >1.6</text>
<rect x="528.6999999999999" y="131.06" width="55.73" height="8.4" fill="#000" opacity="0.28" filter="url(#blur2)"/>
<rect x="528.4" y="130.06" width="55.13" height="8.4" fill="#fe0505"/>
<text x="523.1" y="136.26111111111112" font-family='"Liberation Sans", sans-serif' font-size="5.72" text-anchor="end" fill="#111" font-weight="normal" stroke="#111" stroke-width="0.06">cell periphery</text>
<text x="587.8264999999999" y="136.36111111111111" font-family='"Liberation Sans", sans-serif' font-size="5.72" text-anchor="start" fill="#111" font-weight="normal" >1.43</text>
<rect x="528.6999999999999" y="144.71" width="107.00" height="8.4" fill="#000" opacity="0.28" filter="url(#blur2)"/>
<rect x="528.4" y="143.71" width="106.40" height="8.4" fill="#fe0505"/>
<text x="523.1" y="149.90925925925927" font-family='"Liberation Sans", sans-serif' font-size="5.72" text-anchor="end" fill="#111" font-weight="normal" stroke="#111" stroke-width="0.06">3-dehydroquinate dehydratase activity</text>
<text x="639.098" y="150.00925925925927" font-family='"Liberation Sans", sans-serif' font-size="5.72" text-anchor="start" fill="#111" font-weight="normal" >2.76</text>
<rect x="528.6999999999999" y="158.36" width="107.00" height="8.4" fill="#000" opacity="0.28" filter="url(#blur2)"/>
<rect x="528.4" y="157.36" width="106.40" height="8.4" fill="#fe0505"/>
<text x="523.1" y="163.55740740740742" font-family='"Liberation Sans", sans-serif' font-size="5.72" text-anchor="end" fill="#111" font-weight="normal" stroke="#111" stroke-width="0.06">3-deoxy-7-phosphoheptulonate synthase activity</text>
<text x="639.098" y="163.65740740740742" font-family='"Liberation Sans", sans-serif' font-size="5.72" text-anchor="start" fill="#111" font-weight="normal" >2.76</text>
<rect x="528.6999999999999" y="172.01" width="107.00" height="8.4" fill="#000" opacity="0.28" filter="url(#blur2)"/>
<rect x="528.4" y="171.01" width="106.40" height="8.4" fill="#fe0505"/>
<text x="523.1" y="177.20555555555558" font-family='"Liberation Sans", sans-serif' font-size="5.72" text-anchor="end" fill="#111" font-weight="normal" stroke="#111" stroke-width="0.06">shikimate 3-dehydrogenase (NADP+) activity</text>
<text x="639.098" y="177.30555555555557" font-family='"Liberation Sans", sans-serif' font-size="5.72" text-anchor="start" fill="#111" font-weight="normal" >2.76</text>
<rect x="528.6999999999999" y="185.65" width="94.28" height="8.4" fill="#000" opacity="0.28" filter="url(#blur2)"/>
<rect x="528.4" y="184.65" width="93.68" height="8.4" fill="#fe0505"/>
<text x="523.1" y="190.85370370370373" font-family='"Liberation Sans", sans-serif' font-size="5.72" text-anchor="end" fill="#111" font-weight="normal" stroke="#111" stroke-width="0.06">transferase activity, transferring acyl groups</text>
<text x="626.3765" y="190.95370370370372" font-family='"Liberation Sans", sans-serif' font-size="5.72" text-anchor="start" fill="#111" font-weight="normal" >2.43</text>
<rect x="528.6999999999999" y="199.30" width="80.78" height="8.4" fill="#000" opacity="0.28" filter="url(#blur2)"/>
<rect x="528.4" y="198.30" width="80.18" height="8.4" fill="#fe0505"/>
<text x="523.1" y="204.50185185185185" font-family='"Liberation Sans", sans-serif' font-size="5.72" text-anchor="end" fill="#111" font-weight="normal" stroke="#111" stroke-width="0.06">ammonia-lyase activity</text>
<text x="612.8839999999999" y="204.60185185185185" font-family='"Liberation Sans", sans-serif' font-size="5.72" text-anchor="start" fill="#111" font-weight="normal" >2.08</text>
<rect x="528.6999999999999" y="212.95" width="76.54" height="8.4" fill="#000" opacity="0.28" filter="url(#blur2)"/>
<rect x="528.4" y="211.95" width="75.94" height="8.4" fill="#fe0505"/>
<text x="523.1" y="218.15" font-family='"Liberation Sans", sans-serif' font-size="5.72" text-anchor="end" fill="#111" font-weight="normal" stroke="#111" stroke-width="0.06">heme binding</text>
<text x="608.6434999999999" y="218.25" font-family='"Liberation Sans", sans-serif' font-size="5.72" text-anchor="start" fill="#111" font-weight="normal" >1.97</text>
<rect x="528.6999999999999" y="226.60" width="73.07" height="8.4" fill="#000" opacity="0.28" filter="url(#blur2)"/>
<rect x="528.4" y="225.60" width="72.47" height="8.4" fill="#fe0505"/>
<text x="523.1" y="231.79814814814816" font-family='"Liberation Sans", sans-serif' font-size="5.72" text-anchor="end" fill="#111" font-weight="normal" stroke="#111" stroke-width="0.06">carbon-oxygen lyase activity</text>
<text x="605.174" y="231.89814814814815" font-family='"Liberation Sans", sans-serif' font-size="5.72" text-anchor="start" fill="#111" font-weight="normal" >1.88</text>
<rect x="528.6999999999999" y="240.25" width="72.69" height="8.4" fill="#000" opacity="0.28" filter="url(#blur2)"/>
<rect x="528.4" y="239.25" width="72.09" height="8.4" fill="#fe0505"/>
<text x="523.1" y="245.4462962962963" font-family='"Liberation Sans", sans-serif' font-size="5.72" text-anchor="end" fill="#111" font-weight="normal" stroke="#111" stroke-width="0.06">tetrapyrrole binding</text>
<text x="604.7884999999999" y="245.5462962962963" font-family='"Liberation Sans", sans-serif' font-size="5.72" text-anchor="start" fill="#111" font-weight="normal" >1.87</text>
<rect x="528.6999999999999" y="253.89" width="131.67" height="8.4" fill="#000" opacity="0.28" filter="url(#blur2)"/>
<rect x="528.4" y="252.89" width="131.07" height="8.4" fill="#fe0505"/>
<text x="523.1" y="259.09444444444443" font-family='"Liberation Sans", sans-serif' font-size="5.72" text-anchor="end" fill="#111" font-weight="normal" stroke="#111" stroke-width="0.06">L-phenylalanine metabolic process</text>
<text x="663.77" y="259.19444444444446" font-family='"Liberation Sans", sans-serif' font-size="5.72" text-anchor="start" fill="#111" font-weight="normal" >3.4</text>
<rect x="528.6999999999999" y="267.54" width="131.67" height="8.4" fill="#000" opacity="0.28" filter="url(#blur2)"/>
<rect x="528.4" y="266.54" width="131.07" height="8.4" fill="#fe0505"/>
<text x="523.1" y="272.7425925925926" font-family='"Liberation Sans", sans-serif' font-size="5.72" text-anchor="end" fill="#111" font-weight="normal" textLength="149.5" lengthAdjust="spacingAndGlyphs" stroke="#111" stroke-width="0.06">erythrose 4-phosphate/phosphoenolpyruvate family amino...</text>
<text x="663.77" y="272.8425925925926" font-family='"Liberation Sans", sans-serif' font-size="5.72" text-anchor="start" fill="#111" font-weight="normal" >3.4</text>
<rect x="528.6999999999999" y="281.19" width="123.96" height="8.4" fill="#000" opacity="0.28" filter="url(#blur2)"/>
<rect x="528.4" y="280.19" width="123.36" height="8.4" fill="#fe0505"/>
<text x="523.1" y="286.39074074074074" font-family='"Liberation Sans", sans-serif' font-size="5.72" text-anchor="end" fill="#111" font-weight="normal" stroke="#111" stroke-width="0.06">aromatic amino acid family metabolic process</text>
<text x="656.06" y="286.49074074074076" font-family='"Liberation Sans", sans-serif' font-size="5.72" text-anchor="start" fill="#111" font-weight="normal" >3.2</text>
<rect x="528.6999999999999" y="294.84" width="88.88" height="8.4" fill="#000" opacity="0.28" filter="url(#blur2)"/>
<rect x="528.4" y="293.84" width="88.28" height="8.4" fill="#fe0505"/>
<text x="523.1" y="300.0388888888889" font-family='"Liberation Sans", sans-serif' font-size="5.72" text-anchor="end" fill="#111" font-weight="normal" textLength="149.5" lengthAdjust="spacingAndGlyphs" stroke="#111" stroke-width="0.06">erythrose 4-phosphate/phosphoenolpyruvate family amino...</text>
<text x="620.9794999999999" y="300.1388888888889" font-family='"Liberation Sans", sans-serif' font-size="5.72" text-anchor="start" fill="#111" font-weight="normal" >2.29</text>
<rect x="528.6999999999999" y="308.49" width="88.88" height="8.4" fill="#000" opacity="0.28" filter="url(#blur2)"/>
<rect x="528.4" y="307.49" width="88.28" height="8.4" fill="#fe0505"/>
<text x="523.1" y="313.68703703703704" font-family='"Liberation Sans", sans-serif' font-size="5.72" text-anchor="end" fill="#111" font-weight="normal" stroke="#111" stroke-width="0.06">L-phenylalanine catabolic process</text>
<text x="620.9794999999999" y="313.78703703703707" font-family='"Liberation Sans", sans-serif' font-size="5.72" text-anchor="start" fill="#111" font-weight="normal" >2.29</text>
<rect x="528.6999999999999" y="322.14" width="82.33" height="8.4" fill="#000" opacity="0.28" filter="url(#blur2)"/>
<rect x="528.4" y="321.14" width="81.73" height="8.4" fill="#fe0505"/>
<text x="523.1" y="327.3351851851852" font-family='"Liberation Sans", sans-serif' font-size="5.72" text-anchor="end" fill="#111" font-weight="normal" stroke="#111" stroke-width="0.06">aromatic amino acid family catabolic process</text>
<text x="614.4259999999999" y="327.4351851851852" font-family='"Liberation Sans", sans-serif' font-size="5.72" text-anchor="start" fill="#111" font-weight="normal" >2.12</text>
<rect x="528.6999999999999" y="335.78" width="81.94" height="8.4" fill="#000" opacity="0.28" filter="url(#blur2)"/>
<rect x="528.4" y="334.78" width="81.34" height="8.4" fill="#fe0505"/>
<text x="523.1" y="340.98333333333335" font-family='"Liberation Sans", sans-serif' font-size="5.72" text-anchor="end" fill="#111" font-weight="normal" stroke="#111" stroke-width="0.06">aromatic amino acid family biosynthetic process</text>
<text x="614.0405" y="341.08333333333337" font-family='"Liberation Sans", sans-serif' font-size="5.72" text-anchor="start" fill="#111" font-weight="normal" >2.11</text>
<rect x="528.6999999999999" y="349.43" width="76.93" height="8.4" fill="#000" opacity="0.28" filter="url(#blur2)"/>
<rect x="528.4" y="348.43" width="76.33" height="8.4" fill="#fe0505"/>
<text x="523.1" y="354.6314814814815" font-family='"Liberation Sans", sans-serif' font-size="5.72" text-anchor="end" fill="#111" font-weight="normal" stroke="#111" stroke-width="0.06">cell wall organization or biogenesis</text>
<text x="609.0289999999999" y="354.7314814814815" font-family='"Liberation Sans", sans-serif' font-size="5.72" text-anchor="start" fill="#111" font-weight="normal" >1.98</text>
<rect x="528.6999999999999" y="363.08" width="72.30" height="8.4" fill="#000" opacity="0.28" filter="url(#blur2)"/>
<rect x="528.4" y="362.08" width="71.70" height="8.4" fill="#fe0505"/>
<text x="523.1" y="368.2796296296296" font-family='"Liberation Sans", sans-serif' font-size="5.72" text-anchor="end" fill="#111" font-weight="normal" stroke="#111" stroke-width="0.06">cell wall macromolecule metabolic process</text>
<text x="604.4029999999999" y="368.3796296296296" font-family='"Liberation Sans", sans-serif' font-size="5.72" text-anchor="start" fill="#111" font-weight="normal" >1.86</text>
<rect x="528.6999999999999" y="376.73" width="64.59" height="8.4" fill="#000" opacity="0.28" filter="url(#blur2)"/>
<rect x="528.4" y="375.73" width="63.99" height="8.4" fill="#fe0505"/>
<text x="523.1" y="381.92777777777775" font-family='"Liberation Sans", sans-serif' font-size="5.72" text-anchor="end" fill="#111" font-weight="normal" stroke="#111" stroke-width="0.06">organonitrogen compound catabolic process</text>
<text x="596.693" y="382.02777777777777" font-family='"Liberation Sans", sans-serif' font-size="5.72" text-anchor="start" fill="#111" font-weight="normal" >1.66</text>
<rect x="528.6999999999999" y="390.38" width="51.87" height="8.4" fill="#000" opacity="0.28" filter="url(#blur2)"/>
<rect x="528.4" y="389.38" width="51.27" height="8.4" fill="#fe0505"/>
<text x="523.1" y="395.5759259259259" font-family='"Liberation Sans", sans-serif' font-size="5.72" text-anchor="end" fill="#111" font-weight="normal" stroke="#111" stroke-width="0.06">alpha-amino acid catabolic process</text>
<text x="583.9714999999999" y="395.6759259259259" font-family='"Liberation Sans", sans-serif' font-size="5.72" text-anchor="start" fill="#111" font-weight="normal" >1.33</text>
<text transform="translate(366.1,86.59) rotate(-90)" font-family='"Liberation Sans", sans-serif' font-size="5.72" text-anchor="middle" fill="#222">Cellular Component</text>
<text transform="translate(366.1,195.78) rotate(-90)" font-family='"Liberation Sans", sans-serif' font-size="5.72" text-anchor="middle" fill="#222">Molecular Function</text>
<text transform="translate(366.1,325.44) rotate(-90)" font-family='"Liberation Sans", sans-serif' font-size="5.72" text-anchor="middle" fill="#222">Biological Process</text>
</svg>
</body></html>
